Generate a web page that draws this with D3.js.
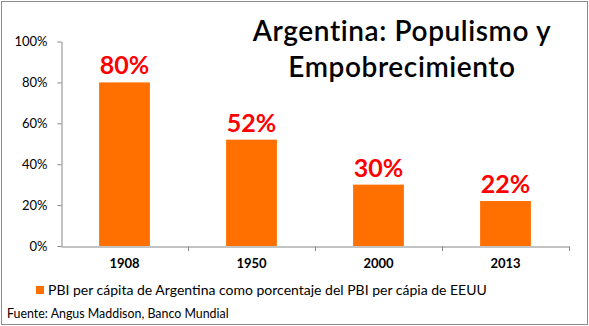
<!DOCTYPE html>
<html>
<head>
<meta charset="utf-8">
<script src="https://cdn.jsdelivr.net/npm/d3@7"></script>
<style>
  body { margin: 0; background: #fff; }
  svg text { font-family: Lato, "Open Sans", sans-serif; }
</style>
</head>
<body>
<div id="chart"></div>
<script>
// data
const years = ["1908", "1950", "2000", "2013"];
const pbiShare = [80, 52, 30, 22];
const yTicks = [0, 20, 40, 60, 80, 100];
const titleLines = ["Argentina: Populismo y", "Empobrecimiento"];
const legendLabel = "PBI per cápita de Argentina como porcentaje del PBI per cápia de EEUU";
const sourceLabel = "Fuente: Angus Maddison, Banco Mundial";

const W = 589, H = 326;

const svg = d3.select("#chart").append("svg")
  .attr("width", W)
  .attr("height", H);

// outer border
svg.append("rect")
  .attr("x", 1.5).attr("y", 1.5)
  .attr("width", W - 3).attr("height", H - 3)
  .attr("fill", "#fff")
  .attr("stroke", "#8c8c8c");

const x = d3.scaleBand(years, [61, 569]).padding(0);
const y = d3.scaleLinear([0, 100], [246, 41.5]);

// y axis
const yAxis = d3.axisLeft(y).tickValues(yTicks).tickFormat(d => d + "%").tickSize(4).tickSizeOuter(0);
const gy = svg.append("g").attr("transform", "translate(61.5,0)").call(yAxis);
gy.select(".domain").attr("stroke", "#868686");
gy.selectAll(".tick line").attr("stroke", "#868686");
gy.selectAll(".tick text").attr("x", -14).style("font-size", "13px").attr("fill", "#000");

// x axis
const xAxis = d3.axisBottom(x).tickSize(0).tickSizeOuter(0);
const gx = svg.append("g").attr("transform", "translate(0,246.5)").call(xAxis);
gx.select(".domain").attr("stroke", "#868686");
gx.selectAll(".tick text").attr("dy", "1.45em").style("font-size", "13px").style("font-weight", "bold").attr("fill", "#000");

// category separators
svg.append("g").selectAll("line")
  .data(years)
  .enter()
  .append("line")
  .attr("x1", d => x(d) + x.bandwidth() + 0.5)
  .attr("x2", d => x(d) + x.bandwidth() + 0.5)
  .attr("y1", 246.5)
  .attr("y2", 251)
  .attr("stroke", "#868686");

// bars
const barW = x.bandwidth() * 0.4;
svg.selectAll(".bar")
  .data(pbiShare)
  .enter()
  .append("rect")
  .attr("class", "bar")
  .attr("x", (d, i) => x(years[i]) + (x.bandwidth() - barW) / 2)
  .attr("y", d => y(d))
  .attr("width", barW)
  .attr("height", d => y(0) - y(d))
  .attr("fill", "#ff7000");

// value labels
svg.selectAll(".value")
  .data(pbiShare)
  .enter()
  .append("text")
  .attr("class", "value")
  .attr("x", (d, i) => x(years[i]) + x.bandwidth() / 2)
  .attr("y", d => y(d) - 8)
  .attr("text-anchor", "middle")
  .style("font-size", "25px")
  .style("font-weight", "bold")
  .attr("fill", "#ff0000")
  .text(d => d + "%");

// title
svg.selectAll(".title")
  .data(titleLines)
  .enter()
  .append("text")
  .attr("class", "title")
  .attr("x", 402)
  .attr("y", (d, i) => 41 + i * 36)
  .attr("text-anchor", "middle")
  .style("font-size", "28px")
  .style("font-weight", "600")
  .style("letter-spacing", "0.6px")
  .attr("fill", "#000")
  .text(d => d);

// legend
svg.append("rect")
  .attr("x", 36).attr("y", 286)
  .attr("width", 8).attr("height", 8)
  .attr("fill", "#ff7000");
svg.append("text")
  .attr("x", 48).attr("y", 295)
  .style("font-size", "14px")
  .attr("fill", "#000")
  .text(legendLabel);

// source
svg.append("text")
  .attr("x", 7).attr("y", 318)
  .style("font-size", "12.4px")
  .attr("fill", "#000")
  .text(sourceLabel);
</script>
</body>
</html>
